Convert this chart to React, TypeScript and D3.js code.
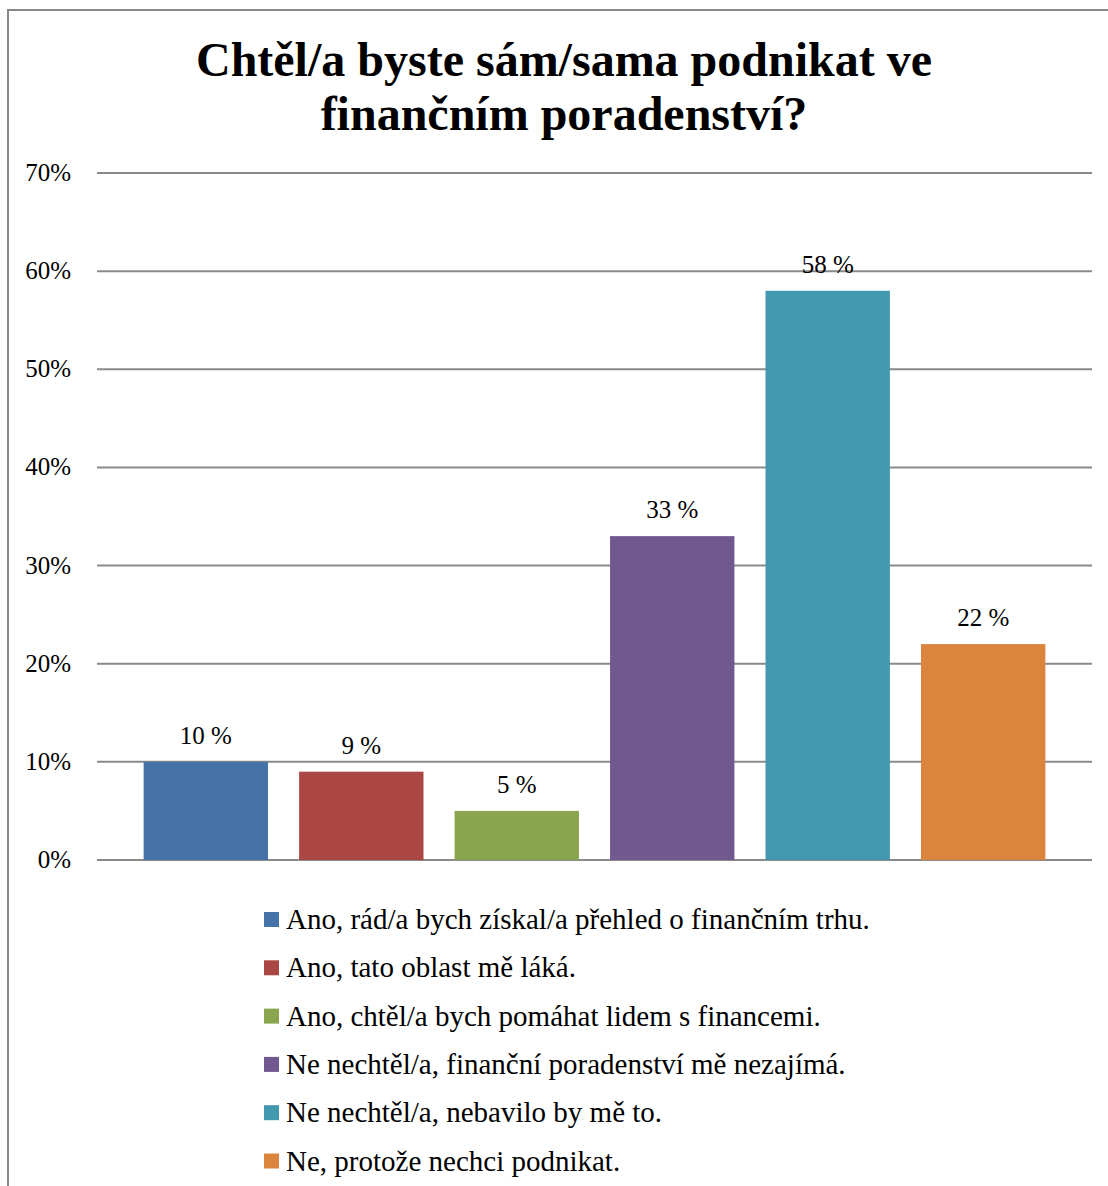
import React from "react";
import * as d3 from "d3";

const titleLines = ["Chtěl/a byste sám/sama podnikat ve", "finančním poradenství?"];
const categories = [
  "Ano, rád/a bych získal/a přehled o finančním trhu.",
  "Ano, tato oblast mě láká.",
  "Ano, chtěl/a bych pomáhat lidem s financemi.",
  "Ne nechtěl/a, finanční poradenství mě nezajímá.",
  "Ne nechtěl/a, nebavilo by mě to.",
  "Ne, protože nechci podnikat.",
];
const values = [10, 9, 5, 33, 58, 22];
const colors = ["#4572A7", "#AA4643", "#89A54E", "#71588F", "#4198AF", "#DB843D"];
const yTicks = [0, 10, 20, 30, 40, 50, 60, 70];

const W = 1108;
const H = 1186;
const FONT = "'Liberation Serif', 'Times New Roman', serif";

export default function App() {
  const x = d3.scaleBand<string>().domain(categories).range([97, 1092]).paddingInner(0.2).paddingOuter(0.3);
  const y = d3.scaleLinear().domain([0, 70]).range([860, 173]);

  return (
    <svg width={W} height={H} style={{ position: "absolute", left: 0, top: 0 }} fontFamily={FONT}>
      <rect x={0} y={0} width={W} height={H} fill="#fff" />
      <rect x={8} y={10} width={W + 20} height={H + 20} fill="#fff" stroke="#888" strokeWidth={2} />
      <text textAnchor="middle" fontWeight="bold" fontSize={48} fill="#000">
        {titleLines.map((t, i) => (
          <tspan key={i} x={564} y={76 + i * 54}>{t}</tspan>
        ))}
      </text>
      {yTicks.map((t) => (
        <g key={t}>
          <line x1={97} x2={1092} y1={y(t)} y2={y(t)} stroke="#8a8a8a" strokeWidth={2} />
          <text x={71} y={y(t) + 8} textAnchor="end" fontSize={25} fill="#000">{t}%</text>
        </g>
      ))}
      {categories.map((c, i) => (
        <g key={c}>
          <rect x={x(c)} y={y(values[i])} width={x.bandwidth()} height={y(0) - y(values[i])} fill={colors[i]} />
          <text x={(x(c) as number) + x.bandwidth() / 2} y={y(values[i]) - 18} textAnchor="middle" fontSize={25} fill="#000">
            {values[i]} %
          </text>
        </g>
      ))}
      {categories.map((c, i) => (
        <g key={"l" + c}>
          <rect x={264} y={912 + i * 48.3} width={15} height={15} fill={colors[i]} />
          <text x={286} y={929 + i * 48.3} fontSize={29} fill="#000">{c}</text>
        </g>
      ))}
    </svg>
  );
}
